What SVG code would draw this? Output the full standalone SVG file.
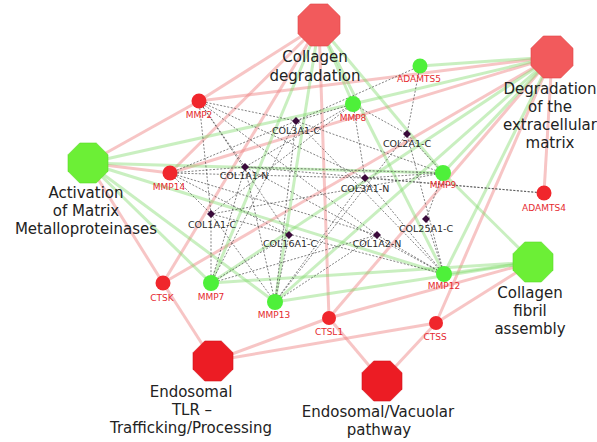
<svg xmlns="http://www.w3.org/2000/svg" xmlns:xlink="http://www.w3.org/1999/xlink" width="597" height="442" viewBox="0 0 597 442">
<style>
  .pk{stroke:#ee7f7f;stroke-opacity:0.45;stroke-width:3;fill:none}
  .gr{stroke:#7fd86a;stroke-opacity:0.42;stroke-width:3;fill:none}
  .dt{stroke:#4a4a4a;stroke-width:0.7;stroke-dasharray:2 1.6;fill:none}
  .big{font-family:"DejaVu Sans",Verdana,sans-serif;font-size:15px;fill:#222;text-anchor:middle}
  .rl{font-family:"DejaVu Sans",Verdana,sans-serif;font-size:9px;fill:#e52a30;text-anchor:middle}
  .dl{font-family:"DejaVu Sans",Verdana,sans-serif;font-size:9.5px;fill:#2a2a2a;text-anchor:middle}
  .octR{fill:#f25a5c;stroke:#e04848;stroke-width:0.6}
  .octD{fill:#ec1c24;stroke:#d01018;stroke-width:0.6}
  .octG{fill:#6cef36;stroke:#5ad828;stroke-width:0.6}
  .cR{fill:#f0262c}
  .cG{fill:#4ef03a}
  .dm{fill:#3a0a3a}
</style>
<defs>
  <polygon id="oct" points="20,8.28 8.28,20 -8.28,20 -20,8.28 -20,-8.28 -8.28,-20 8.28,-20 20,-8.28"/>
  <polygon id="dia" points="0,-4 4,0 0,4 -4,0"/>
</defs>
<rect width="597" height="442" fill="#fff"/>

<g id="connectors">
  <!-- pink: term to red gene -->
  <!-- MMP2 -->
  <line class="pk" x1="88" y1="163" x2="199" y2="101"/>
  <line class="pk" x1="319" y1="25" x2="199" y2="101"/>
  <line class="pk" x1="552" y1="57" x2="199" y2="101"/>
  <!-- MMP14 -->
  <line class="pk" x1="88" y1="163" x2="170" y2="173"/>
  <line class="pk" x1="319" y1="25" x2="170" y2="173"/>
  <line class="pk" x1="552" y1="57" x2="170" y2="173"/>
  <!-- CTSK -->
  <line class="pk" x1="88" y1="163" x2="163" y2="283"/>
  <line class="pk" x1="319" y1="25" x2="163" y2="283"/>
  <line class="pk" x1="552" y1="57" x2="163" y2="283"/>
  <line class="pk" x1="213" y1="361" x2="163" y2="283"/>
  <!-- CTSL1 -->
  <line class="pk" x1="319" y1="25" x2="329" y2="318"/>
  <line class="pk" x1="552" y1="57" x2="329" y2="318"/>
  <line class="pk" x1="533" y1="262" x2="329" y2="318"/>
  <line class="pk" x1="213" y1="361" x2="329" y2="318"/>
  <line class="pk" x1="382" y1="381" x2="329" y2="318"/>
  <!-- CTSS -->
  <line class="pk" x1="552" y1="57" x2="436" y2="323"/>
  <line class="pk" x1="533" y1="262" x2="436" y2="323"/>
  <line class="pk" x1="213" y1="361" x2="436" y2="323"/>
  <line class="pk" x1="382" y1="381" x2="436" y2="323"/>
  <!-- ADAMTS4 -->
  <line class="pk" x1="552" y1="57" x2="544" y2="193"/>

  <!-- green: term to green gene -->
  <line class="gr" x1="552" y1="57" x2="420" y2="66"/>
  <line class="gr" x1="88" y1="163" x2="353" y2="104"/>
  <line class="gr" x1="319" y1="25" x2="353" y2="104"/>
  <line class="gr" x1="552" y1="57" x2="353" y2="104"/>
  <line class="gr" x1="88" y1="163" x2="443" y2="173"/>
  <line class="gr" x1="319" y1="25" x2="443" y2="173"/>
  <line class="gr" x1="552" y1="57" x2="443" y2="173"/>
  <line class="gr" x1="533" y1="262" x2="443" y2="173"/>
  <line class="gr" x1="88" y1="163" x2="444" y2="274"/>
  <line class="gr" x1="319" y1="25" x2="444" y2="274"/>
  <line class="gr" x1="552" y1="57" x2="444" y2="274"/>
  <line class="gr" x1="533" y1="262" x2="444" y2="274"/>
  <line class="gr" x1="88" y1="163" x2="275" y2="302"/>
  <line class="gr" x1="319" y1="25" x2="275" y2="302"/>
  <line class="gr" x1="552" y1="57" x2="275" y2="302"/>
  <line class="gr" x1="533" y1="262" x2="275" y2="302"/>
  <line class="gr" x1="88" y1="163" x2="211" y2="283"/>
  <line class="gr" x1="319" y1="25" x2="211" y2="283"/>
  <line class="gr" x1="552" y1="57" x2="211" y2="283"/>
  <line class="gr" x1="533" y1="262" x2="211" y2="283"/>

  <!-- dotted: gene to collagen fragment -->
  <!-- MMP2 -->
  <line class="dt" x1="199" y1="101" x2="296" y2="121"/>
  <line class="dt" x1="199" y1="101" x2="245" y2="167"/>
  <line class="dt" x1="199" y1="101" x2="211" y2="214"/>
  <line class="dt" x1="199" y1="101" x2="289" y2="235"/>
  <line class="dt" x1="199" y1="101" x2="365" y2="178"/>
  <line class="dt" x1="199" y1="101" x2="377" y2="235"/>
  <!-- MMP14 -->
  <line class="dt" x1="170" y1="173" x2="245" y2="167"/>
  <line class="dt" x1="170" y1="173" x2="296" y2="121"/>
  <line class="dt" x1="170" y1="173" x2="211" y2="214"/>
  <line class="dt" x1="170" y1="173" x2="365" y2="178"/>
  <line class="dt" x1="170" y1="173" x2="377" y2="235"/>
  <line class="dt" x1="170" y1="173" x2="289" y2="235"/>
  <!-- MMP8 -->
  <line class="dt" x1="353" y1="104" x2="296" y2="121"/>
  <line class="dt" x1="353" y1="104" x2="245" y2="167"/>
  <line class="dt" x1="353" y1="104" x2="365" y2="178"/>
  <line class="dt" x1="353" y1="104" x2="211" y2="214"/>
  <line class="dt" x1="353" y1="104" x2="407" y2="134"/>
  <!-- MMP9 -->
  <line class="dt" x1="443" y1="173" x2="296" y2="121"/>
  <line class="dt" x1="443" y1="173" x2="245" y2="167"/>
  <line class="dt" x1="443" y1="173" x2="365" y2="178"/>
  <line class="dt" x1="443" y1="173" x2="407" y2="134"/>
  <line class="dt" x1="443" y1="173" x2="211" y2="214"/>
  <line class="dt" x1="443" y1="173" x2="426" y2="219"/>
  <!-- MMP12 -->
  <line class="dt" x1="444" y1="274" x2="377" y2="235"/>
  <line class="dt" x1="444" y1="274" x2="426" y2="219"/>
  <line class="dt" x1="444" y1="274" x2="211" y2="214"/>
  <line class="dt" x1="444" y1="274" x2="365" y2="178"/>
  <line class="dt" x1="444" y1="274" x2="245" y2="167"/>
  <line class="dt" x1="444" y1="274" x2="296" y2="121"/>
  <line class="dt" x1="444" y1="274" x2="407" y2="134"/>
  <!-- MMP13 -->
  <line class="dt" x1="275" y1="302" x2="245" y2="167"/>
  <line class="dt" x1="275" y1="302" x2="211" y2="214"/>
  <line class="dt" x1="275" y1="302" x2="289" y2="235"/>
  <line class="dt" x1="275" y1="302" x2="296" y2="121"/>
  <line class="dt" x1="275" y1="302" x2="365" y2="178"/>
  <line class="dt" x1="275" y1="302" x2="377" y2="235"/>
  <line class="dt" x1="275" y1="302" x2="407" y2="134"/>
  <!-- MMP7 -->
  <line class="dt" x1="211" y1="283" x2="211" y2="214"/>
  <line class="dt" x1="211" y1="283" x2="245" y2="167"/>
  <line class="dt" x1="211" y1="283" x2="289" y2="235"/>
  <line class="dt" x1="211" y1="283" x2="296" y2="121"/>
  <line class="dt" x1="211" y1="283" x2="377" y2="235"/>
  <!-- ADAMTS5 -->
  <line class="dt" x1="420" y1="66" x2="296" y2="121"/>
  <line class="dt" x1="420" y1="66" x2="407" y2="134"/>
  <!-- ADAMTS4 -->
  <line class="dt" x1="544" y1="193" x2="365" y2="178"/>
  <line class="dt" x1="544" y1="193" x2="245" y2="167"/>
</g>

<!-- Term nodes -->
<g id="collagen-degradation">
  <use xlink:href="#oct" class="octR" transform="translate(319,25) scale(1.05)"/>
  <text class="big" x="315" y="62">Collagen</text>
  <text class="big" x="315" y="81">degradation</text>
</g>
<g id="degradation-ecm">
  <use xlink:href="#oct" class="octR" transform="translate(552,57) scale(1.05)"/>
  <text class="big" x="550" y="94">Degradation</text>
  <text class="big" x="550" y="112">of the</text>
  <text class="big" x="550" y="130">extracellular</text>
  <text class="big" x="550" y="148">matrix</text>
</g>
<g id="activation-mmp">
  <use xlink:href="#oct" class="octG" transform="translate(88,163)"/>
  <text class="big" x="86" y="198">Activation</text>
  <text class="big" x="86" y="216">of Matrix</text>
  <text class="big" x="86" y="234">Metalloproteinases</text>
</g>
<g id="collagen-fibril-assembly">
  <use xlink:href="#oct" class="octG" transform="translate(533,262)"/>
  <text class="big" x="530" y="298">Collagen</text>
  <text class="big" x="530" y="316">fibril</text>
  <text class="big" x="530" y="334">assembly</text>
</g>
<g id="endosomal-tlr">
  <use xlink:href="#oct" class="octD" transform="translate(213,361)"/>
  <text class="big" x="191" y="397">Endosomal</text>
  <text class="big" x="192" y="415">TLR –</text>
  <text class="big" x="191" y="433">Trafficking/Processing</text>
</g>
<g id="endosomal-vacuolar">
  <use xlink:href="#oct" class="octD" transform="translate(382,381)"/>
  <text class="big" x="378" y="417">Endosomal/Vacuolar</text>
  <text class="big" x="379" y="435">pathway</text>
</g>

<!-- Gene nodes -->
<g id="MMP2"><circle class="cR" cx="199" cy="101" r="7.5"/><text class="rl" x="199" y="118">MMP2</text></g>
<g id="ADAMTS5"><circle class="cG" cx="420" cy="66" r="7.5"/><text class="rl" x="419" y="82">ADAMTS5</text></g>
<g id="MMP8"><circle class="cG" cx="353" cy="104" r="8"/><text class="rl" x="353" y="121">MMP8</text></g>
<g id="MMP14"><circle class="cR" cx="170" cy="173" r="7.5"/><text class="rl" x="169" y="190">MMP14</text></g>
<g id="MMP9"><circle class="cG" cx="443" cy="173" r="8"/><text class="rl" x="443" y="188">MMP9</text></g>
<g id="ADAMTS4"><circle class="cR" cx="544" cy="193" r="7.5"/><text class="rl" x="544" y="211">ADAMTS4</text></g>
<g id="MMP12"><circle class="cG" cx="444" cy="274" r="8"/><text class="rl" x="444" y="289">MMP12</text></g>
<g id="CTSK"><circle class="cR" cx="163" cy="283" r="7.5"/><text class="rl" x="162" y="301">CTSK</text></g>
<g id="MMP7"><circle class="cG" cx="211" cy="283" r="8"/><text class="rl" x="211" y="300">MMP7</text></g>
<g id="MMP13"><circle class="cG" cx="275" cy="302" r="8"/><text class="rl" x="274" y="318">MMP13</text></g>
<g id="CTSL1"><circle class="cR" cx="329" cy="318" r="7"/><text class="rl" x="329" y="335">CTSL1</text></g>
<g id="CTSS"><circle class="cR" cx="436" cy="323" r="7"/><text class="rl" x="435" y="340">CTSS</text></g>

<!-- Collagen fragment nodes -->
<g id="COL3A1-C"><use xlink:href="#dia" class="dm" x="296" y="121"/><text class="dl" x="296" y="134">COL3A1-C</text></g>
<g id="COL1A1-N"><use xlink:href="#dia" class="dm" x="245" y="167"/><text class="dl" x="244" y="179">COL1A1-N</text></g>
<g id="COL1A1-C"><use xlink:href="#dia" class="dm" x="211" y="214"/><text class="dl" x="212" y="228">COL1A1-C</text></g>
<g id="COL16A1-C"><use xlink:href="#dia" class="dm" x="289" y="235"/><text class="dl" x="290" y="247">COL16A1-C</text></g>
<g id="COL3A1-N"><use xlink:href="#dia" class="dm" x="365" y="178"/><text class="dl" x="365" y="192">COL3A1-N</text></g>
<g id="COL2A1-C"><use xlink:href="#dia" class="dm" x="407" y="134"/><text class="dl" x="407" y="147">COL2A1-C</text></g>
<g id="COL25A1-C"><use xlink:href="#dia" class="dm" x="426" y="219"/><text class="dl" x="426" y="232">COL25A1-C</text></g>
<g id="COL1A2-N"><use xlink:href="#dia" class="dm" x="377" y="235"/><text class="dl" x="377" y="247">COL1A2-N</text></g>
</svg>
